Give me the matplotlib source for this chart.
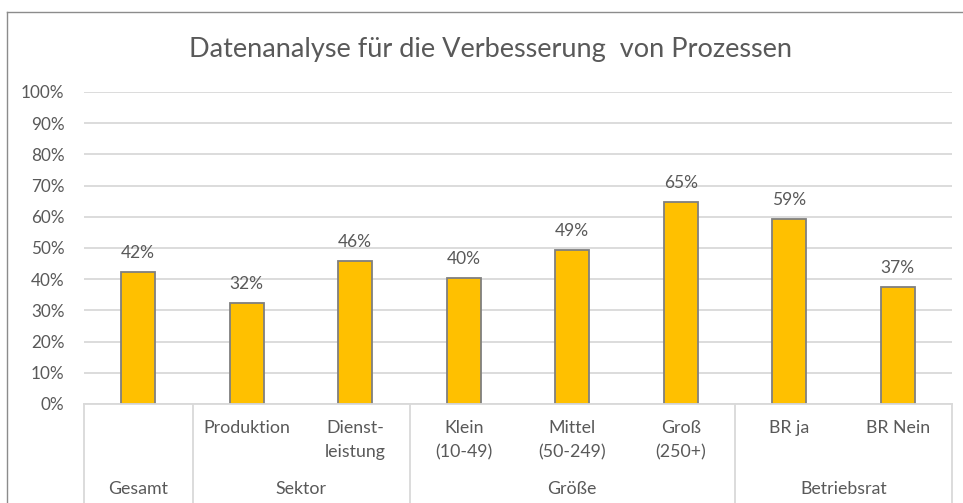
import matplotlib.pyplot as plt
from matplotlib.lines import Line2D
from matplotlib.transforms import blended_transform_factory

plt.rcParams['font.family'] = ['Lato', 'DejaVu Sans']

# Daten
titel = 'Datenanalyse für die Verbesserung  von Prozessen'
kategorien = ['', 'Produktion', 'Dienst-\nleistung', 'Klein\n(10-49)', 'Mittel\n(50-249)',
              'Groß\n(250+)', 'BR ja', 'BR Nein']
werte = [42.2, 32.4, 45.9, 40.4, 49.3, 64.7, 59.3, 37.4]
gruppen = ['Gesamt', 'Sektor', 'Größe', 'Betriebsrat']
gruppen_groesse = [1, 2, 3, 2]
y_ticks = [0, 10, 20, 30, 40, 50, 60, 70, 80, 90, 100]

W, H = 963, 503
text_farbe = '#595959'
gitter_farbe = '#D9D9D9'

fig = plt.figure(figsize=(W / 100, H / 100), dpi=100)
# Plotbereich in Pixeln: links 84, rechts 952, 100% bei y=92, 0% bei y=404
ax = fig.add_axes([84 / W, (H - 404) / H, (952 - 84) / W, (404 - 92) / H])

x = list(range(len(werte)))
ax.bar(x, werte, width=0.31, color='#FFC000', edgecolor='#7F7F7F', linewidth=1.3, zorder=3)

for xi, v in zip(x, werte):
    ax.annotate(f'{round(v)}%', (xi, v), xytext=(0, 8), textcoords='offset points',
                ha='center', va='bottom', fontsize=12.5, color=text_farbe)

ax.set_xlim(-0.5, len(werte) - 0.5)
ax.set_ylim(0, 100)
ax.set_yticks(y_ticks)
ax.set_yticklabels([f'{t}%' for t in y_ticks], fontsize=12.3, color=text_farbe)
ax.tick_params(axis='y', length=0, pad=14)
ax.set_xticks([])
ax.grid(axis='y', color=gitter_farbe, linewidth=1.3, zorder=0)
for s in ax.spines.values():
    s.set_visible(False)

# mehrstufige Kategorienachse
trans = blended_transform_factory(ax.transData, ax.transAxes)
px = 1 / (404 - 92)
ax.plot([-0.5, len(werte) - 0.5], [0, 0], transform=trans, color=gitter_farbe,
        linewidth=1.3, clip_on=False, zorder=4)

for xi, lab in zip(x, kategorien):
    ax.text(xi, -(420 - 404) * px, lab, transform=trans, ha='center', va='top',
            fontsize=12.8, color=text_farbe, linespacing=1.65)

start = -0.5
grenzen = [start]
for name, n in zip(gruppen, gruppen_groesse):
    ax.text(start + n / 2, -(489 - 404) * px, name, transform=trans, ha='center',
            va='center', fontsize=12.8, color=text_farbe)
    start += n
    grenzen.append(start)
for g in grenzen:
    ax.plot([g, g], [0, -0.4], transform=trans, color=gitter_farbe, linewidth=1.3,
            clip_on=False)

fig.text(0.5 * (188 + 793) / W, 1 - 49 / H, titel, ha='center', va='center',
         fontsize=19.5, color=text_farbe)

# Rahmen des Diagrammbereichs
fig.add_artist(Line2D([7 / W, 7 / W], [0, 1 - 12 / H], color='#8C8C8C', linewidth=1))
fig.add_artist(Line2D([7 / W, 1], [1 - 12 / H, 1 - 12 / H], color='#8C8C8C', linewidth=1))

fig.savefig('out.png', dpi=100, facecolor='white')
